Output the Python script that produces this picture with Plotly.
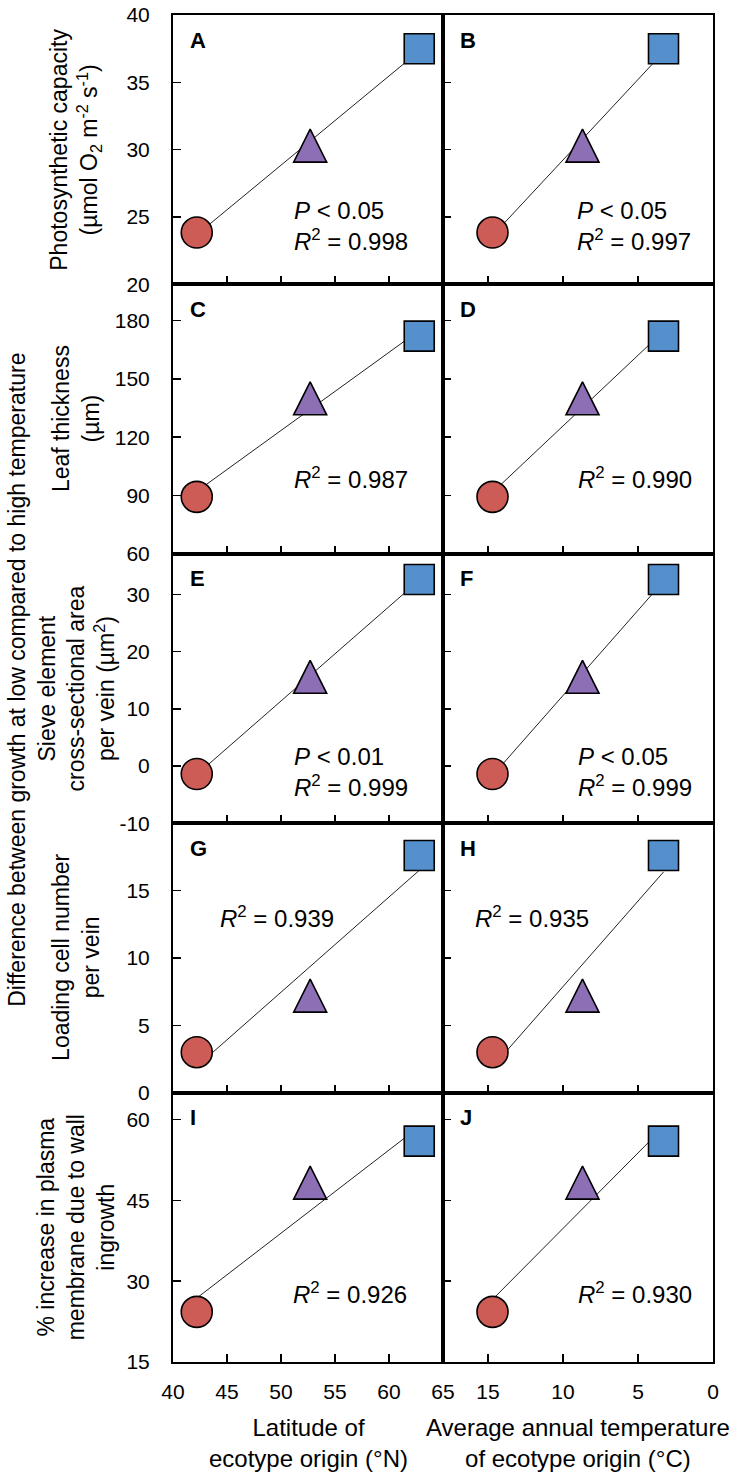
import numpy as np
import plotly.graph_objects as go
from plotly.subplots import make_subplots

# ---------------- data ----------------
latitude = [42.2, 52.7, 62.8]          # °N of ecotype origin
temperature = [14.7, 8.7, 3.3]         # average annual temperature (°C)

photosynthetic_capacity = [23.85, 30.3, 37.5]
leaf_thickness = [89.3, 140.0, 172.0]
sieve_element_area = [-1.4, 15.6, 32.6]
loading_cell_number = [3.0, 7.2, 17.6]
membrane_increase = [24.3, 48.3, 56.0]

row_values = [photosynthetic_capacity, leaf_thickness, sieve_element_area,
              loading_cell_number, membrane_increase]

row_titles = [
    "Photosynthetic capacity<br>(µmol O<sub>2</sub> m<sup>-2</sup> s<sup>-1</sup>)",
    "Leaf thickness<br>(µm)",
    "Sieve element<br>cross-sectional area<br>per vein (µm<sup>2</sup>)",
    "Loading cell number<br>per vein",
    "% increase in plasma<br>membrane due to wall<br>ingrowth",
]
outer_title = "Difference between growth at low compared to high temperature"
x_titles = ["Latitude of<br>ecotype origin (°N)",
            "Average annual temperature<br>of ecotype origin (°C)"]

panel_letters = [["A", "B"], ["C", "D"], ["E", "F"], ["G", "H"], ["I", "J"]]
stat_texts = [
    ["<i>P</i> &lt; 0.05<br><i>R</i><sup>2</sup> = 0.998",
     "<i>P</i> &lt; 0.05<br><i>R</i><sup>2</sup> = 0.997"],
    ["<i>R</i><sup>2</sup> = 0.987", "<i>R</i><sup>2</sup> = 0.990"],
    ["<i>P</i> &lt; 0.01<br><i>R</i><sup>2</sup> = 0.999",
     "<i>P</i> &lt; 0.05<br><i>R</i><sup>2</sup> = 0.999"],
    ["<i>R</i><sup>2</sup> = 0.939", "<i>R</i><sup>2</sup> = 0.935"],
    ["<i>R</i><sup>2</sup> = 0.926", "<i>R</i><sup>2</sup> = 0.930"],
]

y_ranges = [[20, 40], [60, 198.6], [-10, 37.1], [0, 20], [15, 65]]
y_ticks = [[20, 25, 30, 35, 40], [60, 90, 120, 150, 180], [-10, 0, 10, 20, 30],
           [0, 5, 10, 15], [15, 30, 45, 60]]
y_ticktext = [["20", "25", "30", "35", "40"], ["60", "90", "120", "150", "180"],
              ["-10", "0", "10", "20", "30"], ["0", "5", "10", "15"],
              ["15", "30", "45", "60"]]
lat_range = [40, 65]
lat_ticks = [40, 45, 50, 55, 60, 65]
temp_range = [18, 0]
temp_ticks = [15, 10, 5, 0]

# ---------------- styling ----------------
FONT = "Arial, Liberation Sans, Helvetica, sans-serif"
# triangle: arrow-down rotated 180deg, shifted by standoff so it is centred on the point
symbols = ["circle", "arrow-down", "square"]
angles = [0, 180, 0]
sizes = [31, 33, 30]
standoffs = [0, 16.5, 0]
colors = ["#CD5C56", "#8C6FB4", "#5590CC"]

stat_pos = [[(0.44, 0.217), (0.49, 0.217)],
            [(0.44, 0.281), (0.493, 0.281)],
            [(0.44, 0.19), (0.493, 0.19)],
            [(0.166, 0.653), (0.112, 0.653)],
            [(0.437, 0.255), (0.494, 0.255)]]

fig = make_subplots(rows=5, cols=2, horizontal_spacing=0, vertical_spacing=0)

for r in range(5):
    yv = row_values[r]
    for c, xv in enumerate([latitude, temperature]):
        row, col = r + 1, c + 1
        # linear trendline from the data
        slope, intercept = np.polyfit(xv, yv, 1)
        xl = [min(xv), max(xv)]
        yl = [slope * x + intercept for x in xl]
        fig.add_trace(go.Scatter(x=xl, y=yl, mode="lines",
                                 line=dict(color="#222222", width=1),
                                 showlegend=False, hoverinfo="skip"),
                      row=row, col=col)
        for k in range(3):
            fig.add_trace(go.Scatter(
                x=[xv[k]], y=[yv[k]], mode="markers", showlegend=False,
                marker=dict(symbol=symbols[k], size=sizes[k], color=colors[k],
                            angle=angles[k], standoff=standoffs[k],
                            line=dict(color="black", width=1.6))),
                row=row, col=col)

        idx = r * 2 + c + 1
        xs = "" if idx == 1 else str(idx)
        # panel letter
        fig.add_annotation(text="<b>%s</b>" % panel_letters[r][c],
                           xref="x%s domain" % xs, yref="y%s domain" % xs,
                           x=0.055, y=0.907, xanchor="left", yanchor="middle",
                           showarrow=False, font=dict(size=22, color="black", family=FONT))
        px, py = stat_pos[r][c]
        fig.add_annotation(text=stat_texts[r][c],
                           xref="x%s domain" % xs, yref="y%s domain" % xs,
                           x=px, y=py, xanchor="left", yanchor="middle", align="left",
                           showarrow=False, font=dict(size=24, color="black", family=FONT))

        common = dict(showline=True, mirror=True, linecolor="black", linewidth=2,
                      ticks="inside", ticklen=8, tickwidth=1.5, tickcolor="black",
                      showgrid=False, zeroline=False, automargin=False,
                      ticklabeloverflow="allow",
                      tickfont=dict(size=21, color="black", family=FONT))
        if c == 0:
            fig.update_xaxes(range=lat_range, tickvals=lat_ticks,
                             showticklabels=(r == 4), ticklabelstandoff=10,
                             row=row, col=col, **common)
            fig.update_yaxes(range=y_ranges[r], tickvals=y_ticks[r],
                             ticktext=y_ticktext[r],
                             showticklabels=True, ticklabelstandoff=17,
                             row=row, col=col, **common)
        else:
            fig.update_xaxes(range=temp_range, tickvals=temp_ticks,
                             showticklabels=(r == 4), ticklabelstandoff=10,
                             row=row, col=col, **common)
            fig.update_yaxes(range=y_ranges[r], tickvals=y_ticks[r],
                             showticklabels=False,
                             row=row, col=col, **common)

    # row y-axis title
    fig.add_annotation(text=row_titles[r], xref="paper", yref="paper",
                       x=-0.1796, y=1 - (r + 0.5) / 5, textangle=-90,
                       xanchor="center", yanchor="middle", showarrow=False,
                       font=dict(size=23, color="black", family=FONT))

fig.add_annotation(text=outer_title, xref="paper", yref="paper",
                   x=-0.2894, y=0.5063, textangle=-90,
                   xanchor="center", yanchor="middle", showarrow=False,
                   font=dict(size=23, color="black", family=FONT))

for c, t in enumerate(x_titles):
    fig.add_annotation(text=t, xref="paper", yref="paper",
                       x=0.25 + 0.5 * c, y=-0.0601,
                       xanchor="center", yanchor="middle", showarrow=False,
                       font=dict(size=24, color="black", family=FONT))

fig.update_layout(template=None, width=739, height=1478, autosize=False,
                  margin=dict(l=173, r=26, t=15, b=116),
                  paper_bgcolor="white", plot_bgcolor="white",
                  font=dict(family=FONT, color="black"), showlegend=False)

# remove the default 8px page margin so the figure fills the window exactly
fig.write_html("out.html",
               config={"displayModeBar": False, "staticPlot": True},
               post_script="document.body.style.margin='0px';"
                           "document.body.style.overflow='hidden';")
